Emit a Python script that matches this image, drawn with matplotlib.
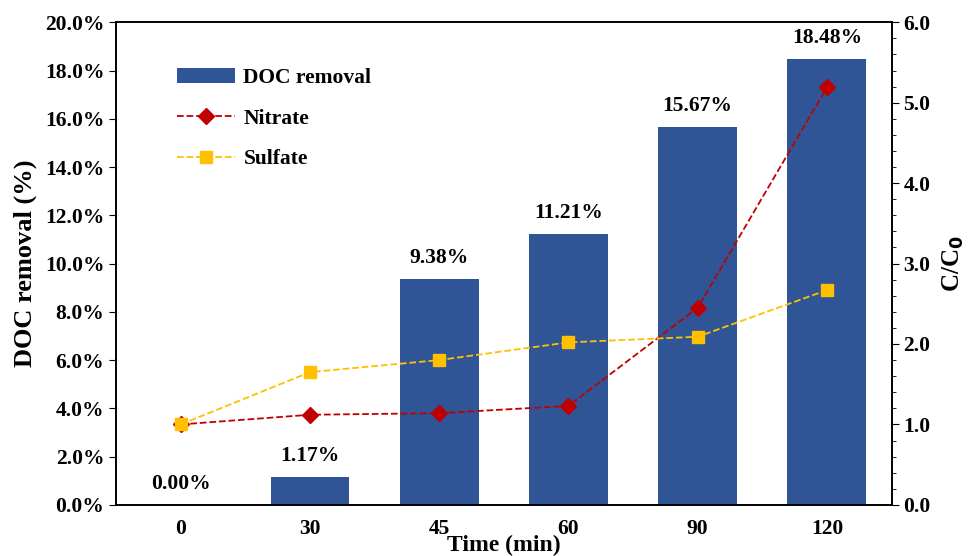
import matplotlib.pyplot as plt
import numpy as np
from matplotlib.ticker import FuncFormatter, MultipleLocator

times = ['0', '30', '45', '60', '90', '120']
doc_removal = [0.00, 1.17, 9.38, 11.21, 15.67, 18.48]
nitrate = [1.00, 1.12, 1.14, 1.23, 2.45, 5.19]
sulfate = [1.00, 1.65, 1.80, 2.02, 2.09, 2.67]

plt.rcParams['font.family'] = ['Liberation Serif']
plt.rcParams['font.weight'] = 'bold'

fig = plt.figure(figsize=(9.68, 5.56), dpi=100)
ax = fig.add_axes([0.120, 0.092, 0.801, 0.868])
x = np.arange(len(times))

ax.bar(x, doc_removal, width=0.61, color='#2F5597', label='DOC removal', zorder=2)
for xi, v in zip(x, doc_removal):
    ax.text(xi, v + 0.45, '%.2f%%' % v, ha='center', va='bottom', fontsize=15.5, fontweight='bold')

ax.set_xlim(-0.5, 5.5)
ax.set_ylim(0, 20)
ax.set_yticks(np.arange(0, 21, 2))
ax.yaxis.set_major_formatter(FuncFormatter(lambda v, p: '%.1f%%' % v))
ax.set_xticks(x)
ax.set_xticklabels(times)
ax.tick_params(axis='x', length=0, pad=10, labelsize=15.5)
ax.tick_params(axis='y', direction='out', labelsize=15.5, length=5)
ax.set_ylabel('DOC removal (%)', fontsize=19, fontweight='bold', labelpad=6)
ax.set_xlabel('Time (min)', fontsize=17, fontweight='bold', labelpad=-3)

ax2 = ax.twinx()
ax2.plot(x, nitrate, '--', color='#C00000', marker='D', markersize=8, lw=1.3, label='Nitrate')
ax2.plot(x, sulfate, '--', color='#FFC000', marker='s', markersize=9, lw=1.3, label='Sulfate')
ax2.set_ylim(0, 6)
ax2.set_yticks(np.arange(0, 6.1, 1))
ax2.yaxis.set_minor_locator(MultipleLocator(0.2))
ax2.yaxis.set_major_formatter(FuncFormatter(lambda v, p: '%.1f' % v))
ax2.tick_params(axis='y', which='major', direction='out', labelsize=15.5, length=5)
ax2.tick_params(axis='y', which='minor', direction='out', length=3)
ax2.set_ylabel('C/C$_\\mathbf{0}$', fontsize=18, fontweight='bold', labelpad=7)

h1, l1 = ax.get_legend_handles_labels()
h2, l2 = ax2.get_legend_handles_labels()
ax2.legend(h1 + h2, l1 + l2, loc='upper left', bbox_to_anchor=(0.053, 0.945), frameon=False,
           prop={'size': 15.5, 'weight': 'bold'}, handlelength=2.7, handletextpad=0.4,
           labelspacing=0.95)

for a in (ax, ax2):
    for s in a.spines.values():
        s.set_linewidth(1.2)

plt.savefig('out.png', dpi=100)
